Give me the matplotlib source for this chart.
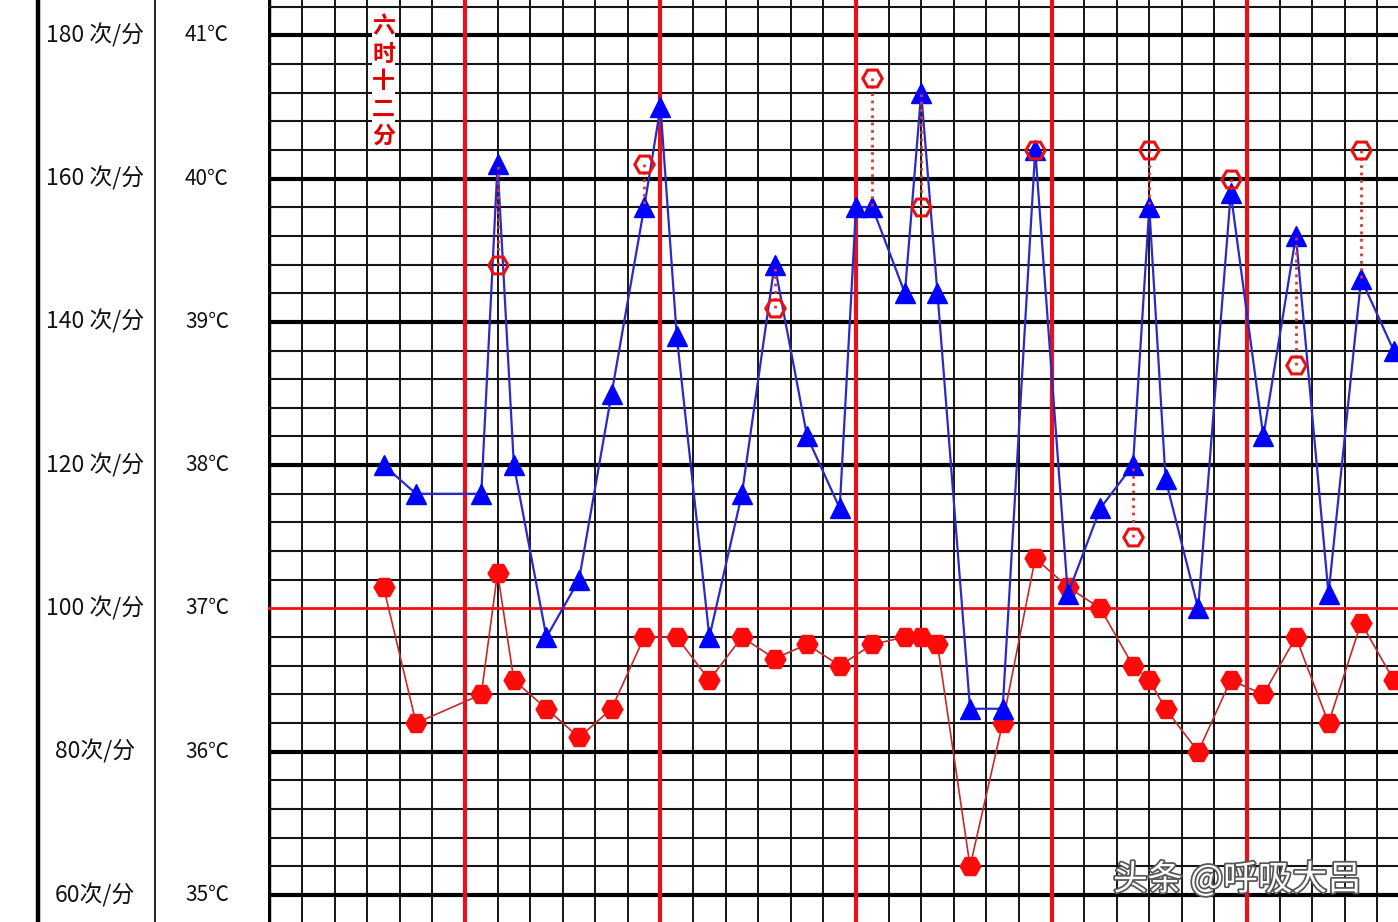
import matplotlib.pyplot as plt
import matplotlib.patheffects as pe
import numpy as np

plt.rcParams['font.family'] = ['Noto Sans CJK SC', 'DejaVu Sans']

# 时间: 从第一天 0 点起的小时数
hours_temp = [14, 18, 26, 28, 30, 34, 38, 42, 46, 48, 50, 54, 58, 62, 66, 70, 72, 74,
              78, 80, 82, 86, 90, 94, 98, 102, 106, 108, 110, 114, 118, 122, 126, 130, 134, 138]
# 体温 (蓝色三角, ℃)
temp = [38.0, 37.8, 37.8, 40.1, 38.0, 36.8, 37.2, 38.5, 39.8, 40.5, 38.9, 36.8, 37.8, 39.4,
        38.2, 37.7, 39.8, 39.8, 39.2, 40.6, 39.2, 36.3, 36.3, 40.2, 37.1, 37.7, 38.0, 39.8,
        37.9, 37.0, 39.9, 38.2, 39.6, 37.1, 39.3, 38.8]

hours_pulse = [14, 18, 26, 28, 30, 34, 38, 42, 46, 50, 54, 58, 62, 66, 70, 74, 78, 80,
               82, 86, 90, 94, 98, 102, 106, 108, 110, 114, 118, 122, 126, 130, 134, 138]
# 脉搏 (红色实心, 次/分)
pulse = [103, 84, 88, 105, 90, 86, 82, 86, 96, 96, 90, 96, 93, 95, 92, 95, 96, 96,
         95, 64, 84, 107, 103, 100, 92, 90, 86, 80, 90, 88, 96, 84, 98, 90]

# 物理降温后体温 (红圈)
hours_cool = [28, 46, 62, 74, 80, 94, 106, 108, 118, 126, 134]
temp_cool = [39.4, 40.1, 39.1, 40.7, 39.8, 40.2, 37.5, 40.2, 40.0, 38.7, 40.2]

temp_ticks = [35, 36, 37, 38, 39, 40, 41]
temp_labels = ['35℃', '36℃', '37℃', '38℃', '39℃', '40℃', '41℃']
pulse_labels = ['60次/分', '80次/分', '100 次/分', '120 次/分', '140 次/分', '160 次/分', '180 次/分']
note = '六时十二分'

W, H = 1398, 922
fig = plt.figure(figsize=(W / 100, H / 100), dpi=100)
fig.patch.set_facecolor('white')

t_lo, t_hi = 34.812, 41.246

# 左侧刻度栏
ax0 = fig.add_axes([0, 0, 268 / W, 1])
ax0.set_xlim(0, 268)
ax0.set_ylim(t_lo, t_hi)
ax0.axis('off')
ax0.axvline(38, color='black', lw=3.2)
ax0.axvline(155, color='black', lw=1.2)
for t, tl, pl in zip(temp_ticks, temp_labels, pulse_labels):
    ax0.text(95, t, pl, ha='center', va='center', fontsize=16.5, color='#111111')
    ax0.text(207, t, tl, ha='center', va='center', fontsize=15, color='#111111')

# 主网格区
ax = fig.add_axes([268 / W, 0, 1 - 268 / W, 1])
ax.set_xlim(-0.18, 138.53)
ax.set_ylim(t_lo, t_hi)
ax.axis('off')

for h in range(0, 140, 4):
    if h == 0:
        ax.axvline(h, color='black', lw=3.2, zorder=1)
    elif h % 24 == 0:
        ax.axvline(h, color='#e8111a', lw=3.0, zorder=1.5)
    else:
        ax.axvline(h, color='#151515', lw=1.4, zorder=1)

for i in range(int(round((t_hi - 34.8) / 0.2)) + 1):
    t = round(34.8 + i * 0.2, 1)
    if abs(t - 37) < 1e-6:
        ax.axhline(t, color='#ee1111', lw=2.0, zorder=1.2)
    elif abs(t - round(t)) < 1e-6:
        ax.axhline(t, color='black', lw=3.0, zorder=1)
    else:
        ax.axhline(t, color='#151515', lw=1.5, zorder=1)

# 脉搏 (次/分) 用同比例的第二刻度
axp = ax.twinx()
axp.set_ylim(60 + (t_lo - 35) * 20, 60 + (t_hi - 35) * 20)
axp.set_position(ax.get_position())
axp.axis('off')
axp.plot(hours_pulse, pulse, color='#c42a2a', lw=1.2, zorder=3,
         marker='H', ms=15, mfc='#ff0a0a', mec='#ff0a0a')

# 体温
axt = ax.twinx()
axt.set_ylim(t_lo, t_hi)
axt.set_position(ax.get_position())
axt.axis('off')
axt.plot(hours_temp, temp, color='#2a2ac8', lw=1.6, zorder=4,
         marker='^', ms=14.5, mfc='#0000ff', mec='#0000ff')

temp_at = dict(zip(hours_temp, temp))
for h, tc in zip(hours_cool, temp_cool):
    axt.plot([h, h], [tc, temp_at[h]], color='#e83030', lw=2.0, ls=':', zorder=5)
axt.plot(hours_cool, temp_cool, ls='none', marker='H', ms=14, mfc='none',
         mec='#e81010', mew=2.2, zorder=6)

# 顶部红色竖排说明
axt.text(14, 41.14, '\n'.join(note), ha='center', va='top', color='#e00000',
         fontsize=16.5, fontweight='bold', linespacing=1.25, zorder=7,
         bbox=dict(facecolor='white', edgecolor='none', pad=0.3))

# 水印
fig.text(1113 / W, 42 / H, '头条 @呼吸大吕', ha='left', va='center', fontsize=25,
         color='white', zorder=10,
         path_effects=[pe.withStroke(linewidth=2.5, foreground='#555555')])

fig.savefig('out.png', dpi=100)
